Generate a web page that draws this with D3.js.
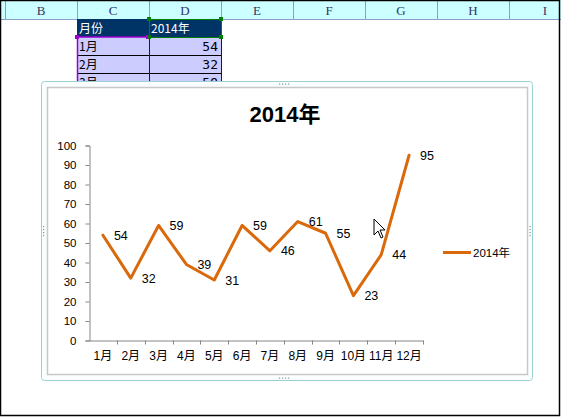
<!DOCTYPE html>
<html>
<head>
<meta charset="utf-8">
<script src="https://cdn.jsdelivr.net/npm/d3@7"></script>
<style>
  body { margin: 0; background: #fff; }
  svg text { font-family: "Liberation Sans", Arial, "Noto Sans CJK SC", sans-serif; }
</style>
</head>
<body>
<div class="sheet"></div>
<script>
// data
const months = ["1月", "2月", "3月", "4月", "5月", "6月", "7月", "8月", "9月", "10月", "11月", "12月"];
const values2014 = [54, 32, 59, 39, 31, 59, 46, 61, 55, 23, 44, 95];
const seriesName = "2014年";
const columnLetters = ["B", "C", "D", "E", "F", "G", "H", "I"];
const tableHeader = ["月份", "2014年"];
const tableRows = [["1月", 54], ["2月", 32], ["3月", 59]];

const W = 561, H = 417;
const cjk = '"Noto Sans CJK SC", "Noto Sans CJK JP", sans-serif';

const svg = d3.select(".sheet")
    .append("svg")
    .attr("width", W)
    .attr("height", H);

// spreadsheet column header
const colW = 72, colX0 = 5, headH = 19;
svg.append("rect")
    .attr("x", 0).attr("y", 0)
    .attr("width", W).attr("height", headH)
    .attr("fill", "#ccffff");
svg.append("line")
    .attr("x1", 0).attr("x2", W)
    .attr("y1", headH + 0.5).attr("y2", headH + 0.5)
    .attr("stroke", "#8e9ec8");
columnLetters.forEach(function(c, i) {
    const x = colX0 + i * colW;
    svg.append("line")
        .attr("x1", x + 0.5).attr("x2", x + 0.5)
        .attr("y1", 0).attr("y2", headH)
        .attr("stroke", "#8e9ec8");
    svg.append("text")
        .attr("x", x + colW / 2).attr("y", 15)
        .attr("text-anchor", "middle")
        .style("font-family", '"Liberation Serif", serif')
        .style("font-size", "13px")
        .attr("fill", "#333366")
        .text(c);
});

// little data table (columns C and D)
const cX = colX0 + colW, dX = colX0 + colW * 2, rowH = 18, tY = 19;
svg.append("rect").attr("x", cX).attr("y", tY)
    .attr("width", colW * 2).attr("height", rowH).attr("fill", "#003366");
svg.append("rect").attr("x", cX).attr("y", tY + rowH)
    .attr("width", colW * 2).attr("height", rowH * tableRows.length).attr("fill", "#ccccff");
tableHeader.forEach(function(t, i) {
    svg.append("text")
        .attr("x", cX + 2 + i * colW).attr("y", tY + 14)
        .style("font-family", cjk).style("font-size", "12px")
        .attr("fill", "white").text(t);
});
tableRows.forEach(function(r, i) {
    const y = tY + rowH * (i + 1);
    svg.append("line")
        .attr("x1", cX).attr("x2", dX + colW)
        .attr("y1", y + rowH + 0.5).attr("y2", y + rowH + 0.5)
        .attr("stroke", "#000");
    svg.append("text")
        .attr("x", cX + 2).attr("y", y + 14)
        .style("font-family", cjk).style("font-size", "12px")
        .attr("fill", "#000").text(r[0]);
    svg.append("text")
        .attr("x", dX + colW - 3).attr("y", y + 14)
        .attr("text-anchor", "end")
        .style("font-family", '"DejaVu Sans Mono", monospace').style("font-size", "13px")
        .attr("fill", "#000").text(r[1]);
});
svg.append("line").attr("x1", cX + 0.5).attr("x2", cX + 0.5)
    .attr("y1", tY + rowH).attr("y2", tY + rowH * 4).attr("stroke", "#9900cc").attr("stroke-width", 1.5);
svg.append("line").attr("x1", cX).attr("x2", dX)
    .attr("y1", tY + rowH).attr("y2", tY + rowH).attr("stroke", "#9900cc").attr("stroke-width", 1.5);
svg.append("line").attr("x1", dX + 0.5).attr("x2", dX + 0.5)
    .attr("y1", tY + rowH).attr("y2", tY + rowH * 4).attr("stroke", "#0000ff");
svg.append("line").attr("x1", dX + colW + 0.5).attr("x2", dX + colW + 0.5)
    .attr("y1", tY + rowH).attr("y2", tY + rowH * 4).attr("stroke", "#0000ff");
svg.append("rect").attr("x", dX + 0.5).attr("y", tY + 0.5)
    .attr("width", colW).attr("height", rowH)
    .attr("fill", "none").attr("stroke", "#008000");
[[cX, tY + rowH, "#9900cc"], [dX - 1, tY + rowH, "#9900cc"],
 [dX, tY, "#008000"], [dX + colW, tY, "#008000"],
 [dX, tY + rowH, "#008000"], [dX + colW, tY + rowH, "#008000"]].forEach(function(p) {
    svg.append("rect").attr("x", p[0] - 2).attr("y", p[1] - 2)
        .attr("width", 4).attr("height", 4).attr("fill", p[2]);
});

// chart frame
svg.append("rect")
    .attr("x", 41.5).attr("y", 81.5).attr("width", 491).attr("height", 299)
    .attr("rx", 3)
    .attr("fill", "#fbfefe").attr("stroke", "#9fd0d0");
svg.append("rect")
    .attr("x", 47.5).attr("y", 87.5).attr("width", 480).attr("height", 287)
    .attr("fill", "#fff").attr("stroke", "#c8c8c8").attr("stroke-width", 1.5);
// sizing handles
[[284, 84, "h"], [284, 378, "h"], [43.5, 231, "v"], [530, 231, "v"]].forEach(function(p) {
    for (let k = -3; k <= 3; k += 2) {
        svg.append("rect")
            .attr("x", p[2] === "h" ? p[0] + k * 1.5 - 0.5 : p[0] - 0.5)
            .attr("y", p[2] === "h" ? p[1] - 0.5 : p[1] + k * 1.5 - 0.5)
            .attr("width", 1.2).attr("height", 1.2).attr("fill", "#7a9a9a");
    }
});

// title
svg.append("text")
    .attr("x", 285).attr("y", 122)
    .attr("text-anchor", "middle")
    .style("font-size", "22px").style("font-weight", "bold")
    .attr("fill", "#000")
    .text(seriesName);

// scales
const x = d3.scaleBand().domain(months).range([89, 423]);
const y = d3.scaleLinear().domain([0, 100]).range([340.5, 145.5]);

// y axis
const yAxis = svg.append("g")
    .attr("transform", "translate(89.5,0)")
    .call(d3.axisLeft(y).ticks(10).tickSize(4).tickPadding(9));
yAxis.select(".domain").attr("stroke", "#868686");
yAxis.selectAll(".tick line").attr("stroke", "#868686");
yAxis.selectAll(".tick text")
    .style("font-family", '"Liberation Sans", Arial, sans-serif')
    .style("font-size", "11.5px").attr("fill", "#000");

// x axis, ticks on category boundaries
const xAxis = svg.append("g")
    .attr("transform", "translate(0," + 340.5 + ")")
    .call(d3.axisBottom(x).tickSize(0).tickPadding(11));
xAxis.select(".domain").attr("stroke", "#868686");
xAxis.selectAll(".tick text")
    .style("font-family", '"Liberation Sans", "Noto Sans CJK SC", sans-serif')
    .style("font-size", "12px").attr("fill", "#000");
xAxis.selectAll(".boundary")
    .data(months)
    .enter().append("line")
    .attr("x1", function(d) { return Math.round(x(d) + x.bandwidth()) + 0.5; })
    .attr("x2", function(d) { return Math.round(x(d) + x.bandwidth()) + 0.5; })
    .attr("y1", 0).attr("y2", 4)
    .attr("stroke", "#868686");

// series line
const lineColor = "#d9690a";
const pts = months.map(function(m, i) { return { m: m, v: values2014[i] }; });
svg.append("path")
    .datum(pts)
    .attr("fill", "none")
    .attr("stroke", lineColor)
    .attr("stroke-width", 3)
    .attr("stroke-linejoin", "round")
    .attr("stroke-linecap", "round")
    .attr("d", d3.line()
        .x(function(d) { return x(d.m) + x.bandwidth() / 2; })
        .y(function(d) { return y(d.v); }));

// data labels, right of each point
svg.selectAll(".dlabel")
    .data(pts)
    .enter().append("text")
    .attr("x", function(d) { return x(d.m) + x.bandwidth() / 2 + 11; })
    .attr("y", function(d) { return y(d.v) + 4.5; })
    .style("font-size", "12.5px")
    .attr("fill", "#000")
    .text(function(d) { return d.v; });

// legend
svg.append("line")
    .attr("x1", 443).attr("x2", 471)
    .attr("y1", 252.5).attr("y2", 252.5)
    .attr("stroke", lineColor).attr("stroke-width", 3);
svg.append("text")
    .attr("x", 473).attr("y", 256.5)
    .style("font-size", "11.5px")
    .attr("fill", "#000")
    .text(seriesName);

// mouse pointer from the screenshot
svg.append("path")
    .attr("d", "M374,219 L374,235 L378,231 L381,238 L383,237 L380,230 L385,230 Z")
    .attr("fill", "#fff").attr("stroke", "#000").attr("stroke-width", 1);

// window border
svg.append("rect")
    .attr("x", 0.5).attr("y", 0.5).attr("width", 559).attr("height", 415)
    .attr("fill", "none").attr("stroke", "#000").attr("stroke-width", 1.5);
</script>
</body>
</html>
